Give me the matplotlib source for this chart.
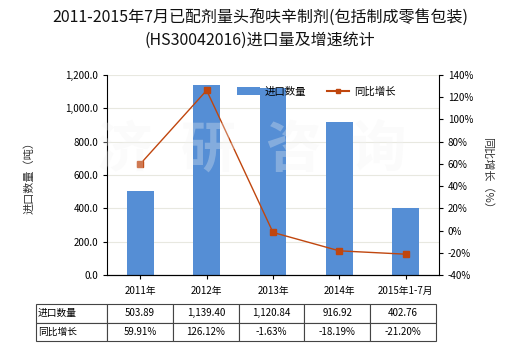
import matplotlib.pyplot as plt
from matplotlib.lines import Line2D
from matplotlib.patches import Patch

plt.rcParams['font.family'] = ['Noto Sans CJK SC', 'DejaVu Sans']

# data
categories = ['2011年', '2012年', '2013年', '2014年', '2015年1-7月']
volume = [503.89, 1139.40, 1120.84, 916.92, 402.76]
growth = [59.91, 126.12, -1.63, -18.19, -21.20]
volume_labels = ['503.89', '1,139.40', '1,120.84', '916.92', '402.76']
growth_labels = ['59.91%', '126.12%', '-1.63%', '-18.19%', '-21.20%']

bar_color = '#558ED5'
line_color = '#C0460E'

fig = plt.figure(figsize=(5.2, 3.5), dpi=100)
ax = fig.add_axes([0.206, 0.214, 0.638, 0.572])
ax2 = ax.twinx()

x = list(range(len(categories)))
ax.bar(x, volume, width=0.4, color=bar_color, zorder=2)
ax.set_xlim(-0.5, len(categories) - 0.5)
ax.set_ylim(0, 1200)
ax.set_yticks(range(0, 1201, 200))
ax.set_yticklabels([f'{v:,.1f}' for v in range(0, 1201, 200)])
ax.yaxis.grid(True, color='#E8E8E0', linewidth=0.8, zorder=0)
ax.set_axisbelow(True)
ax.set_xticks(x)
ax.set_xticklabels(categories)
ax.tick_params(axis='x', length=3, labelsize=7, pad=5)
ax.tick_params(axis='y', labelsize=7, length=3)
ax.set_ylabel('进口数量（吨）', fontsize=8, color='#333333', labelpad=22)

ax2.plot(x, growth, color=line_color, linewidth=1, marker='s', markersize=4,
         markeredgecolor=line_color, zorder=3)
ax2.set_ylim(-40, 140)
ax2.set_yticks(range(-40, 141, 20))
ax2.set_yticklabels([f'{v}%' for v in range(-40, 141, 20)])
ax2.tick_params(axis='y', labelsize=7, length=3)
ax2.set_ylabel('同比增长（%）', fontsize=8, color='#333333', rotation=-90, labelpad=14)

for a in (ax, ax2):
    a.spines['top'].set_visible(False)
    a.spines['right'].set_visible(a is ax2)
    a.spines['left'].set_visible(a is ax)
    a.spines['bottom'].set_color('#000000')

# faint watermark
for i, ch in enumerate('济研咨询'):
    ax2.text(0.05 + i * 0.255, 0.62, ch, transform=ax2.transAxes, fontsize=40,
             fontweight='bold', color='#F2F2F2', alpha=0.3, ha='center', va='center',
             zorder=5)

handles = [Patch(facecolor=bar_color, label='进口数量'),
           Line2D([0], [0], color=line_color, marker='s', markersize=3, label='同比增长')]
ax2.legend(handles=handles, loc='upper center', bbox_to_anchor=(0.63, 0.99), ncol=2,
           frameon=False, fontsize=7.5, handlelength=2.2, handleheight=0.9,
           columnspacing=2.0, handletextpad=0.4)

fig.suptitle('2011-2015年7月已配剂量头孢呋辛制剂(包括制成零售包装)\n(HS30042016)进口量及增速统计',
             fontsize=11.5, y=0.975, linespacing=1.45, color='#111111')

# data table under the chart
cell_text = [['进口数量'] + volume_labels, ['同比增长'] + growth_labels]
tbl = ax.table(cellText=cell_text, cellLoc='center',
               colWidths=[71] + [66] * 5,
               bbox=[-0.213, -0.33, 1.204, 0.185])
tbl.auto_set_font_size(False)
tbl.set_fontsize(7)
for (r, c), cell in tbl.get_celld().items():
    cell.set_edgecolor('#444444')
    cell.set_linewidth(0.8)
    if c == 0:
        cell.set_text_props(ha='left')
        cell.PAD = 0.02

fig.savefig('out.png', dpi=100)
